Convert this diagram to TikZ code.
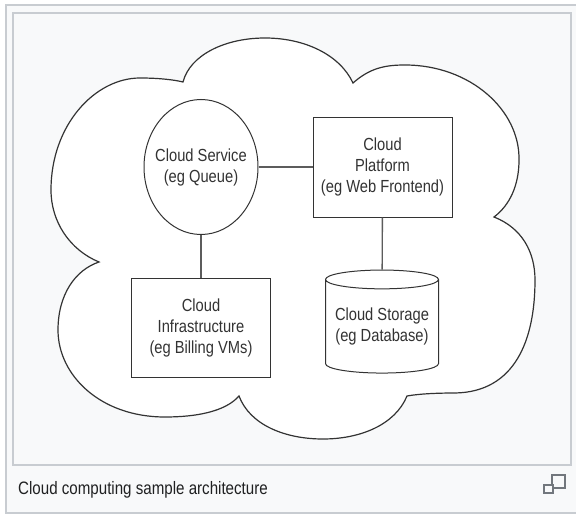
\documentclass[tikz,border=0pt]{standalone}
\usepackage{fontspec}
\newfontfamily\diagfont{Liberation Sans}[FakeStretch=0.84]
\usepackage{xcolor}
\usepackage{tikz}
\usetikzlibrary{shapes.geometric, positioning}
\definecolor{framegray}{HTML}{C8CCD1}
\definecolor{panelbg}{HTML}{F8F9FA}
\definecolor{inkgray}{HTML}{333333}
\definecolor{icongray}{HTML}{72777D}
\definecolor{captionink}{HTML}{202122}

\begin{document}
\begin{tikzpicture}[x=1pt, y=-1pt,
    every node/.style={font=\diagfont\fontsize{17.5}{21}\selectfont, text=inkgray, align=center, inner sep=0pt},
    part/.style={draw=inkgray, line width=1pt, fill=white},
    link/.style={draw=inkgray!80, line width=1.4pt}]
    \useasboundingbox (0,0) rectangle (576,519);
    % thumbnail frame
    \draw[framegray, fill=panelbg, line width=1.5pt] (6,5) rectangle (590,513);
    \draw[framegray, fill=panelbg, line width=1.5pt] (13,13) rectangle (571,465);
    % cloud outline
    \draw[inkgray, fill=white, line width=1.2pt]
        (99,262) .. controls (70,250) and (51,222) .. (51,190)
        .. controls (51,125) and (95,78) .. (140,78)
        .. controls (160,78) and (175,80) .. (183,82)
        .. controls (190,55) and (225,38) .. (265,38)
        .. controls (305,38) and (340,55) .. (353,83)
        .. controls (370,68) and (385,65) .. (405,65)
        .. controls (470,65) and (520,110) .. (519,160)
        .. controls (519,185) and (510,205) .. (494,217)
        .. controls (522,228) and (535,252) .. (535,280)
        .. controls (535,340) and (515,392) .. (455,393)
        .. controls (435,393) and (418,394) .. (407,396)
        .. controls (395,425) and (360,439) .. (323,439)
        .. controls (285,439) and (250,425) .. (239,396)
        .. controls (225,412) and (195,417) .. (165,417)
        .. controls (100,417) and (58,375) .. (58,330)
        .. controls (58,295) and (75,270) .. (99,262) -- cycle;
    % components
    \node[part, ellipse, inner xsep=-12pt, minimum width=114pt, minimum height=135pt] (service) at (201,167) {Cloud Service\\(eg Queue)};
    \node[part, rectangle, minimum width=139pt, minimum height=100pt] (platform) at (382.5,167) {Cloud\\Platform\\(eg Web Frontend)};
    \node[part, rectangle, minimum width=139pt, minimum height=99pt] (infra) at (201,327.5) {Cloud\\Infrastructure\\(eg Billing VMs)};
    \node[part, cylinder, shape border rotate=90, aspect=0.2, minimum width=113pt, minimum height=103pt] (storage) at (382,326.5) {Cloud Storage\\(eg Database)};
    % links
    \draw[link] (service) -- (platform);
    \draw[link] (service) -- (infra);
    \draw[link] (platform) -- (storage);
    % caption
    \node[anchor=base west, text=captionink, font=\diagfont\fontsize{18}{21}\selectfont] (caption) at (18,494) {Cloud computing sample architecture};
    % enlarge icon
    \draw[icongray, line width=1.3pt] (552,475) rectangle (565,488);
    \draw[icongray, fill=panelbg, line width=1.3pt] (544,485) rectangle (553,493);
\end{tikzpicture}
\end{document}
